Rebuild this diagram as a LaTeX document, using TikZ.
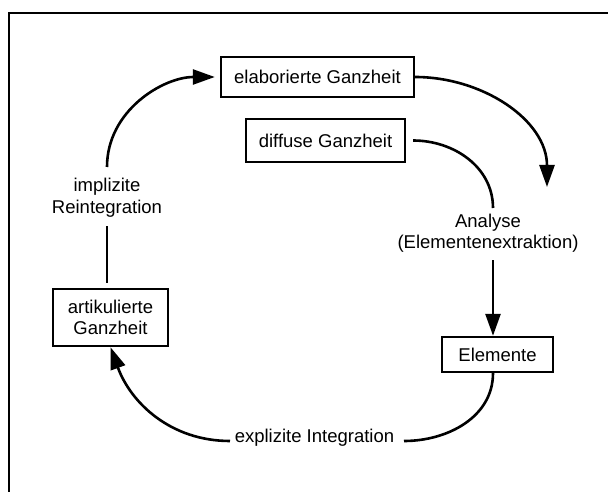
\documentclass[tikz,border=0pt]{standalone}
\usepackage{fontspec}
\setmainfont{Liberation Sans}
\usetikzlibrary{arrows.meta}
\begin{document}
\begin{tikzpicture}[x=1pt,y=-1pt,
  box/.style={draw, line width=2.4pt, inner sep=0pt, align=center, font=\fontsize{18.5}{21.5}\selectfont},
  lbl/.style={inner sep=0pt, align=center, font=\fontsize{18.5}{21.5}\selectfont},
  conn/.style={line width=2.6pt},
  arr/.style={conn, -{Triangle[length=22pt,width=15pt]}},
  frame/.style={line width=2.7pt}]
\useasboundingbox (0,0) rectangle (608,492);
\draw[frame] (9,492) -- (9,13) -- (608,13);

\node[box, minimum width=193pt, minimum height=40pt] (elab) at (317.5,77) {elaborierte Ganzheit};
\node[box, minimum width=159pt, minimum height=43pt] (diff) at (325.5,140.5) {diffuse Ganzheit};
\node[box, minimum width=111pt, minimum height=35pt] (elem) at (497.5,354.5) {Elemente};
\node[box, minimum width=115pt, minimum height=57pt] (art) at (110.5,317.5) {artikulierte\\Ganzheit};
\node[lbl] (impl) at (107,197.5) {implizite\\Reintegration};
\node[lbl] (ana) at (488,233) {Analyse\\(Elementenextraktion)};
\node[lbl] (expl) at (314.5,438) {explizite Integration};

\coordinate (tA) at (547,187);
\coordinate (a1) at (493,208);
\coordinate (a2) at (493,260);
\coordinate (i1) at (107,167);
\coordinate (i2) at (107,226);
\coordinate (e1) at (404,441);
\coordinate (e2) at (230,441);

\draw[arr] (elab.east) to[out=0,in=90] (tA);
\draw[conn] ([xshift=7pt]diff.east) to[out=0,in=90] (a1);
\draw[arr] (a2) -- (elem.north -| a2);
\draw[conn] (elem.south -| a2) to[out=-90,in=0] (e1);
\draw[arr] (e2) to[out=180,in=-70] (art.south);
\draw[conn, shorten >=5pt] (i2) -- (art.north -| i2);
\draw[arr, shorten >=5pt] (i1) to[out=90,in=180] (elab.west);
\end{tikzpicture}
\end{document}
